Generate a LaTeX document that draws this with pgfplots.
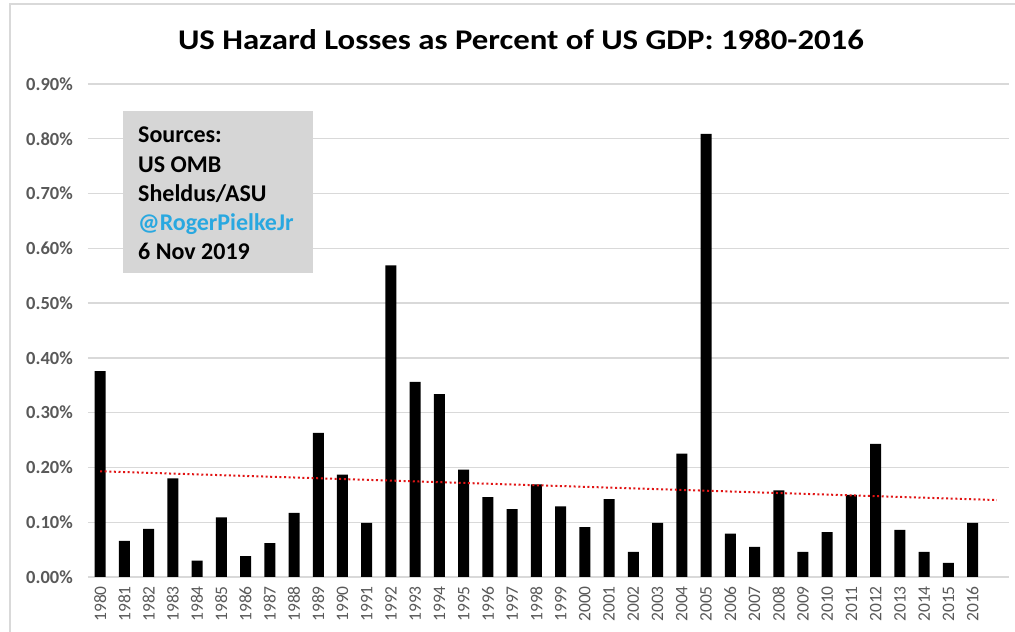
\documentclass[border=0pt]{standalone}
\usepackage{fontspec}
\setmainfont{Carlito}
\usepackage{pgfplots}
\pgfplotsset{compat=1.18}
\definecolor{gridgray}{RGB}{217,217,217}
\definecolor{labgray}{RGB}{89,89,89}
\definecolor{boxgray}{RGB}{214,214,214}
\definecolor{twblue}{RGB}{41,168,224}
\definecolor{trendred}{RGB}{225,20,20}
\begin{document}
\begin{tikzpicture}[x=1pt,y=1pt]
\useasboundingbox (0,0) rectangle (1015,632);
\fill[white] (0,0) rectangle (1015,632);
\draw[gridgray, line width=1.2pt] (10,0) -- (10,628) -- (1015,628);
\begin{axis}[
  at={(88pt,55pt)}, anchor=south west,
  scale only axis, width=921pt, height=493pt,
  xmin=1979.5, xmax=2017.5, ymin=0, ymax=0.9,
  axis line style={draw=none},
  tick style={draw=none},
  ymajorgrids, grid style={gridgray, line width=1.3pt},
  ytick={0,0.1,0.2,0.3,0.4,0.5,0.6,0.7,0.8,0.9},
  yticklabels={0.00\%,0.10\%,0.20\%,0.30\%,0.40\%,0.50\%,0.60\%,0.70\%,0.80\%,0.90\%},
  yticklabel style={anchor=east, font=\fontsize{18.5}{18.5}\selectfont\bfseries, text=labgray, inner xsep=15pt, inner ysep=0pt},
  xtick={1980,1981,...,2016},
  xticklabel={\pgfmathprintnumber[1000 sep={},assume math mode=true]{\tick}},
  xticklabel style={rotate=90, anchor=east, font=\fontsize{17.5}{17.5}\selectfont, text=labgray, inner xsep=9pt, inner ysep=0pt},
  clip=false,
]
\addplot[ybar, fill=black, draw=none, bar width=11pt] coordinates {
(1980,0.376) (1981,0.066) (1982,0.088) (1983,0.180) (1984,0.030)
(1985,0.109) (1986,0.038) (1987,0.062) (1988,0.117) (1989,0.263)
(1990,0.187) (1991,0.099) (1992,0.569) (1993,0.356) (1994,0.334)
(1995,0.196) (1996,0.146) (1997,0.124) (1998,0.169) (1999,0.129)
(2000,0.091) (2001,0.142) (2002,0.046) (2003,0.099) (2004,0.225)
(2005,0.809) (2006,0.079) (2007,0.055) (2008,0.158) (2009,0.046)
(2010,0.082) (2011,0.150) (2012,0.243) (2013,0.086) (2014,0.046)
(2015,0.026) (2016,0.099)
};
\addplot[trendred, line width=2pt, dash pattern=on 2pt off 2.6pt] coordinates {(1980,0.193) (2017,0.1405)};
\end{axis}
\fill[boxgray] (123,359) rectangle (313,521);
\begin{scope}[every node/.style={anchor=base west, inner sep=0pt, font=\fontsize{24}{29}\selectfont\bfseries}]
\node at (138,489) {Sources:};
\node at (138,459.75) {US OMB};
\node at (138,430.5) {Sheldus/ASU};
\node[text=twblue] at (138,401.25) {@RogerPielkeJr};
\node at (138,372) {6 Nov 2019};
\end{scope}
\node[anchor=base, inner sep=0pt, font=\fontsize{28.5}{28.5}\selectfont\bfseries] at (521,582) {\scalebox{1.15}[1]{US Hazard Losses as Percent of US GDP: 1980-2016}};
\end{tikzpicture}
\end{document}
